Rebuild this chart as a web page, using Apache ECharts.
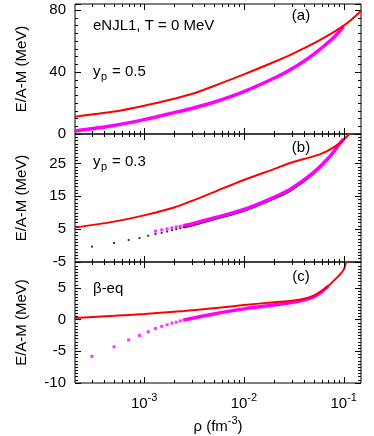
<!DOCTYPE html>
<html><head><meta charset="utf-8">
<script src="https://cdn.jsdelivr.net/npm/echarts@6/dist/echarts.min.js"></script>
<style>html,body{margin:0;padding:0;background:#fff}#c{width:374px;height:436px}</style>
</head><body><div id="c"></div>
<script>
// ---- tick labels ----
const xMajorTicks = [1e-3, 1e-2, 1e-1];
const xMajorExp = ['-3', '-2', '-1'];
const xMinorTicks = [3e-4,4e-4,5e-4,6e-4,7e-4,8e-4,9e-4,
                     2e-3,3e-3,4e-3,5e-3,6e-3,7e-3,8e-3,9e-3,
                     2e-2,3e-2,4e-2,5e-2,6e-2,7e-2,8e-2,9e-2];
const yLabelsA = [0, 40, 80];
const yLabelsB = [-5, 5, 15, 25];
const yLabelsC = [-10, -5, 0, 5];

// ---- panel (a): y_p = 0.5 ----
const rhoRedA = [2.03e-4,5e-4,1e-3,2e-3,3e-3,5e-3,1e-2,2e-2,3e-2,5e-2,8e-2,1e-1,1.2e-1,1.49e-1];
const redA    = [11.2,14.5,18.3,22.8,25.8,31,38.5,46.5,51.5,58.5,66,70,74,79.5];
const rhoMagA = [2.03e-4,5e-4,1e-3,2e-3,3e-3,5e-3,1e-2,2e-2,3e-2,5e-2,8e-2,1e-1];
const magA    = [2,5.5,9.3,13.8,16.5,20.5,27.4,36,42,51.5,62.5,69.5];

// ---- panel (b): y_p = 0.3 ----
const rhoRedB = [2.03e-4,5e-4,1e-3,2e-3,3e-3,5e-3,1e-2,2e-2,3e-2,4.5e-2,6e-2,8e-2,1e-1,1.2e-1,1.3e-1];
const redB    = [5.5,7.3,9.2,11.6,13.6,16.3,20,23.3,25.3,26.8,28,30,32.3,34.8,36];
const rhoDotsB  = [3e-4,5e-4,7e-4,9e-4,1.1e-3,1.3e-3,1.5e-3,1.7e-3,1.9e-3,2.1e-3,2.3e-3,2.5e-3];
const blackDotsB = [-0.3,0.8,1.7,2.3,3.0,3.5,3.9,4.3,4.7,5.0,5.3,5.6];
const rhoLineB  = [2.5e-3,3e-3,5e-3,1e-2,2e-2,3e-2,5e-2,7e-2,9e-2,1e-1];
const blackLineB = [5.6,6.1,8.0,10.6,14.3,17.0,22.0,26.4,30.7,32.5];
const rhoMagDotsB = [1.3e-3,1.5e-3,1.7e-3,1.9e-3,2.1e-3,2.3e-3,2.5e-3];
const magDotsB  = [4.4,4.8,5.1,5.4,5.7,5.9,6.1];
const magLineB  = [6.1,6.6,8.4,11,14.7,17.4,22.3,26.6,30.8,32.5];

// ---- panel (c): beta-equilibrium ----
const rhoRedC = [2.03e-4,5e-4,1e-3,2.5e-3,5e-3,1e-2,2e-2,3e-2,4e-2,5e-2,6e-2,7e-2,8e-2,9e-2,1e-1,1.06e-1,1.1e-1];
const redC    = [0.25,0.6,0.9,1.35,1.8,2.3,2.75,3.0,3.3,3.8,4.5,5.3,6.2,7.0,7.9,9.2,10.2];
const rhoMagDotsC = [3e-4,5e-4,7e-4,9e-4,1.1e-3,1.3e-3,1.5e-3,1.7e-3,1.9e-3,2.1e-3,2.3e-3,2.5e-3];
const magDotsC  = [-5.8,-4.3,-3.2,-2.5,-1.9,-1.4,-1.05,-0.8,-0.55,-0.4,-0.2,-0.05];
const rhoMagLineC = [2.5e-3,5e-3,1e-2,2e-2,3e-2,4e-2,5e-2,6e-2,7e-2];
const magLineC  = [-0.05,0.9,1.7,2.3,2.7,3.1,3.6,4.4,5.3];

const FONT = 'Liberation Sans';
const zip = (xs, ys) => xs.map((x, i) => [x, ys[i]]);

const grids = [
  {left: 75, right: 13, top: 4, height: 130},
  {left: 75, right: 13, top: 134, height: 128},
  {left: 75, right: 13, top: 262, height: 121}
].map(g => Object.assign(g, {show: true, borderColor: '#000', borderWidth: 1, backgroundColor: 'transparent'}));

const xAxes = [0, 1, 2].map(gi => ({
  type: 'log', logBase: 10, gridIndex: gi, min: 2.03e-4, max: 0.149,
  axisLine: {show: false}, axisTick: {show: false}, splitLine: {show: false}, minorTick: {show: false},
  axisLabel: gi === 2 ? {
    show: true, margin: 9, color: '#000',
    formatter: v => {
      const i = xMajorTicks.findIndex(t => Math.abs(t - v) / t < 1e-6);
      return i < 0 ? '' : '{b|10}{s|' + xMajorExp[i] + '}';
    },
    rich: {b: {fontSize: 15, fontFamily: FONT, color: '#000'},
           s: {fontSize: 11, fontFamily: FONT, color: '#000', padding: [0, 0, 12, 0]}}
  } : {show: false},
  name: gi === 2 ? '{a|ρ (fm}{s|-3}{a|)}' : '',
  nameLocation: 'middle', nameGap: 32,
  nameTextStyle: {rich: {a: {fontSize: 15, fontFamily: FONT, color: '#000'},
                         s: {fontSize: 11, fontFamily: FONT, color: '#000', padding: [0, 0, 12, 0]}}}
}));

function yAxesFor(gi, min, max, minor, major, labels) {
  const base = {type: 'value', gridIndex: gi, min: min, max: max,
    axisLine: {show: false}, splitLine: {show: false}};
  const mk = (pos, step, len, withLabel) => Object.assign({}, base, {
    position: pos, interval: step,
    axisTick: {show: true, inside: true, length: len, lineStyle: {color: '#000', width: 1}},
    axisLabel: withLabel ? {show: true, margin: 9, color: '#000', fontSize: 15, fontFamily: FONT,
      formatter: v => labels.some(l => Math.abs(l - v) < 1e-9) ? String(v) : ''} : {show: false},
    name: withLabel ? 'E/A-M (MeV)' : '', nameLocation: 'middle', nameGap: 46,
    nameTextStyle: {fontSize: 15, fontFamily: FONT, color: '#000'}
  });
  return [mk('left', minor, 3, false), mk('left', major, 6, true), mk('right', minor, 3, false), mk('right', major, 6, false)];
}
const yAxes = [].concat(
  yAxesFor(0, 0, 84, 5, 40, yLabelsA),
  yAxesFor(1, -5, 34, 1, 10, yLabelsB),
  yAxesFor(2, -10, 9.1, 0.5, 5, yLabelsC)
);

const tickData = xMinorTicks.map(v => [v, 0]).concat(xMajorTicks.map(v => [v, 1]));
function tickRender(params, api) {
  const cs = params.coordSys;
  const x = Math.round(api.coord([api.value(0), 0])[0]) + 0.5;
  const len = api.value(1) ? 6 : 3;
  const st = {stroke: '#000', lineWidth: 1};
  return {type: 'group', children: [
    {type: 'line', shape: {x1: x, y1: cs.y + cs.height, x2: x, y2: cs.y + cs.height - len}, style: st},
    {type: 'line', shape: {x1: x, y1: cs.y, x2: x, y2: cs.y + len}, style: st}
  ]};
}

const line = (gi, data, color, width) => ({type: 'line', xAxisIndex: gi, yAxisIndex: gi * 4, data: data,
  showSymbol: false, smooth: 0.3, lineStyle: {color: color, width: width}, itemStyle: {color: color}, z: 3});
const dots = (gi, data, color, size) => ({type: 'scatter', xAxisIndex: gi, yAxisIndex: gi * 4, data: data,
  symbol: 'rect', symbolSize: size, itemStyle: {color: color}, z: 4});

const series = [
  line(0, zip(rhoMagA, magA), '#ff00ff', 3.5),
  line(0, zip(rhoRedA, redA), '#ff0000', 2),
  dots(1, zip(rhoDotsB, blackDotsB), '#000', 2),
  line(1, zip(rhoLineB, blackLineB), '#000', 2),
  dots(1, zip(rhoMagDotsB, magDotsB), '#ff00ff', 3),
  line(1, zip(rhoLineB, magLineB), '#ff00ff', 3.5),
  line(1, zip(rhoRedB, redB), '#ff0000', 2),
  dots(2, zip(rhoMagDotsC, magDotsC), '#ff00ff', 3),
  line(2, zip(rhoMagLineC, magLineC), '#ff00ff', 3.5),
  line(2, zip(rhoRedC, redC), '#ff0000', 2)
].concat([0, 1, 2].map(gi => ({type: 'custom', xAxisIndex: gi, yAxisIndex: gi * 4, data: tickData,
  renderItem: tickRender, clip: false, silent: true, z: 5})));

const txt = (x, y, t, size, align) => ({type: 'text', x: x, y: y, silent: true,
  style: {text: t, fontSize: size || 15, fontFamily: FONT, fill: '#000', align: align || 'left', verticalAlign: 'middle'}});

const chart = echarts.init(document.getElementById('c'), null, {renderer: 'canvas'});
chart.setOption({
  animation: false,
  grid: grids, xAxis: xAxes, yAxis: yAxes, series: series,
  graphic: [
    txt(93, 26, 'eNJL1, T = 0 MeV'),
    txt(301, 16, '(a)', 15, 'center'),
    txt(93, 72, 'y'), txt(101, 77, 'p', 11), txt(112, 72, '= 0.5'),
    txt(301, 148, '(b)', 15, 'center'),
    txt(93, 162, 'y'), txt(101, 167, 'p', 11), txt(112, 162, '= 0.3'),
    txt(301, 277, '(c)', 15, 'center'),
    txt(93, 289, 'β-eq')
  ]
});
</script></body></html>
